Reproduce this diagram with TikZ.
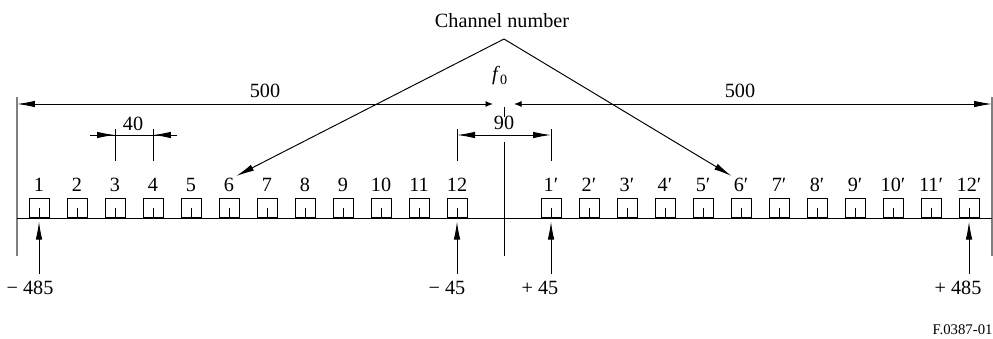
\documentclass[tikz,border=0pt]{standalone}
\usepackage{fontspec}
\setmainfont{Liberation Serif}
\usetikzlibrary{arrows.meta}
\begin{document}
\begin{tikzpicture}[x=0.02cm,y=-0.02cm,line width=0.55pt,
   >={Latex[length=3.6mm,width=1.3mm]},
   font=\fontsize{11.5}{13}\selectfont,
   chbox/.style={draw,anchor=south,minimum width=0.4cm,minimum height=0.38cm,inner sep=0pt},
   num/.style={inner sep=1pt},
   val/.style={inner sep=4pt}]
\useasboundingbox (0,0) rectangle (993,338);
% bordi e asse delle frequenze
   \draw[gray,line width=0.9pt] (17,97) -- (17,256);
   \draw[gray,line width=0.9pt] (992,97) -- (992,256);
   \draw (17,218) -- (992,218);
   \draw (504,107) -- (504,117); \draw (504,142) -- (504,256);
% canali 1 ... 12
   \foreach \i in {1,...,12} {
      \node[chbox] (b\i) at ({39+38*(\i-1)},218) {};
      \draw (b\i.south) -- ++(0,-10);
      \node[num] (n\i) at ({39+38*(\i-1)},185) {\i};
   }
% canali 1' ... 12'
   \foreach \i in {1,...,12} {
      \node[chbox] (bp\i) at ({551+38*(\i-1)},218) {};
      \draw (bp\i.south) -- ++(0,-10);
      \node[num] (np\i) at ({551+38*(\i-1)},185) {\i′};
   }
% numero di canale
   \node (chn) at (502,21) {Channel number};
   \coordinate (apex) at (504,39);
   \draw[->] (apex) -- (n6.north east);
   \draw[->] (apex) -- (np6.north west);
% quote 500
   \coordinate (bl) at (17,104); \coordinate (fl) at (493,104);
   \coordinate (fr) at (514,104); \coordinate (br) at (992,104);
   \draw[{Latex[length=3.6mm,width=1.3mm]}-{Latex[length=1.5mm,width=1.2mm]}] (bl) -- (fl);
   \draw[{Latex[length=1.5mm,width=1.2mm]}-{Latex[length=3.6mm,width=1.3mm]}] (fr) -- (br);
   \node (l500) at (265,91) {500}; \node (r500) at (740,91) {500};
   \node (f0) at (500,76) {\textit{f}\textsubscript{0}};
% quota 40
   \draw (115,129) -- (115,161); \draw (153,129) -- (153,161);
   \draw (90,135) -- (177,135);
   \draw[->] (90,135) -- (115,135); \draw[->] (177,135) -- (153,135);
   \node (q40) at (133,124) {40};
% quota 90
   \draw (457,129) -- (457,161); \draw (551,129) -- (551,161);
   \draw[<->] (457,135) -- (551,135);
   \node (q90) at (504,123) {90};
% frequenze dei canali estremi
   \node[val] (m485) at (30,288) {− 485}; \node[val] (m45) at (447,288) {− 45};
   \node[val] (p45) at (540,288) {+ 45}; \node[val] (p485) at (958,288) {+ 485};
   \draw[->,shorten >=2pt] (b1.south |- m485.north) -- (b1.south);
   \draw[->,shorten >=2pt] (b12.south |- m45.north) -- (b12.south);
   \draw[->,shorten >=2pt] (bp1.south |- p45.north) -- (bp1.south);
   \draw[->,shorten >=2pt] (bp12.south |- p485.north) -- (bp12.south);
   \node[anchor=east,inner sep=0pt,font=\fontsize{8.4}{10}\selectfont] (fig) at (993,330) {F.0387-01};
\end{tikzpicture}
\end{document}
